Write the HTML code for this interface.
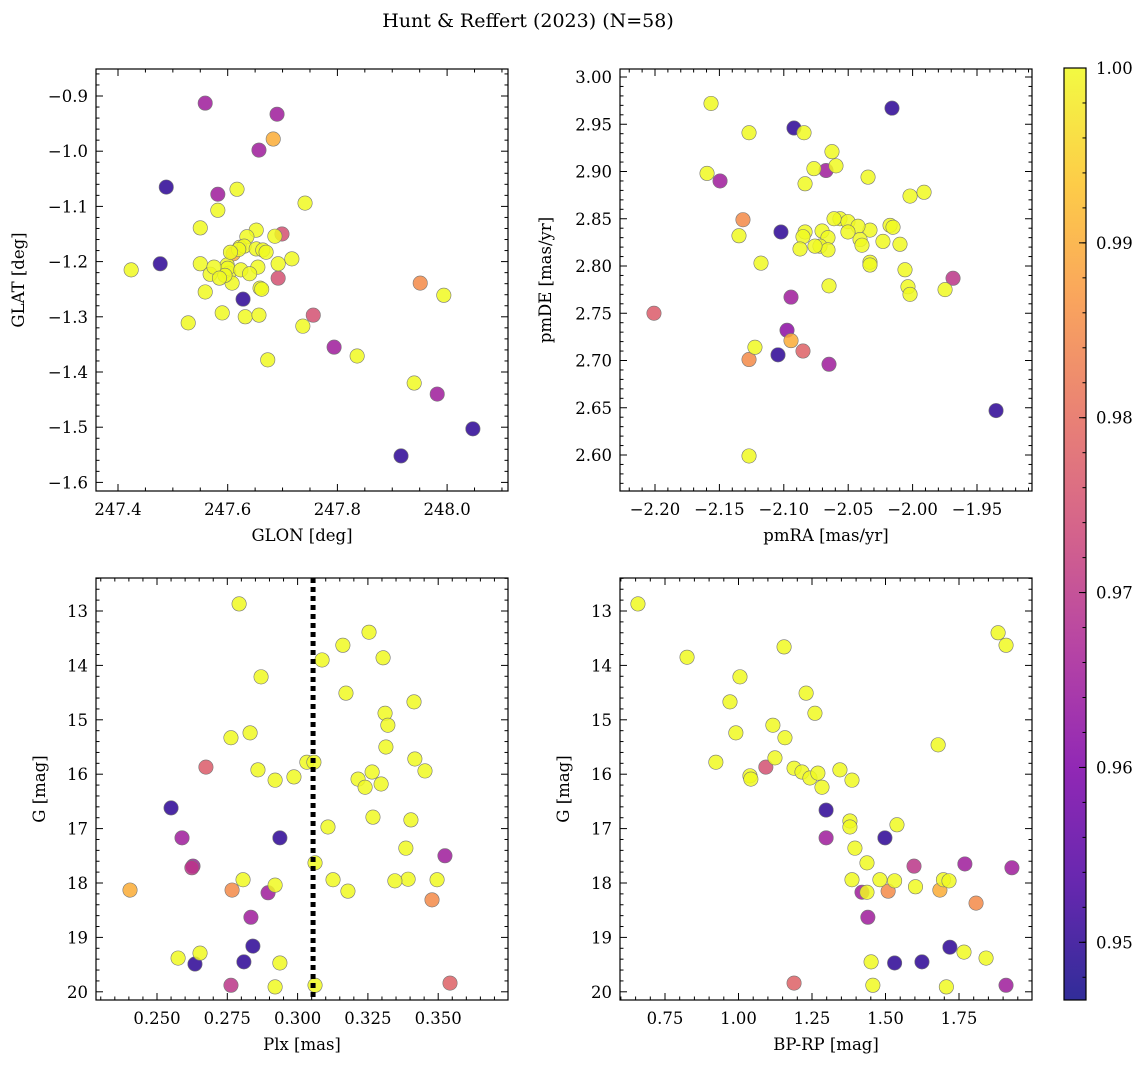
<!DOCTYPE html>
<html><head><meta charset="utf-8">
<style>
html,body{margin:0;padding:0;background:#fff;}
svg text{font-family:"DejaVu Serif","Liberation Serif",serif;fill:#000;}
</style></head>
<body>
<svg id="fig" width="1148" height="1068" viewBox="0 0 1148 1068" xmlns="http://www.w3.org/2000/svg">
<defs>
<linearGradient id="plasma" x1="0" y1="1" x2="0" y2="0">
<stop offset="0" stop-color="#0d0887"/><stop offset="0.125" stop-color="#4c02a1"/>
<stop offset="0.25" stop-color="#7e03a8"/><stop offset="0.375" stop-color="#a92395"/>
<stop offset="0.5" stop-color="#cc4778"/><stop offset="0.625" stop-color="#e56b5d"/>
<stop offset="0.75" stop-color="#f89441"/><stop offset="0.875" stop-color="#fdc328"/>
<stop offset="1" stop-color="#f0f921"/></linearGradient>
</defs>
<text x="528" y="27" font-size="19" text-anchor="middle">Hunt &amp; Reffert (2023) (N=58)</text>
</svg>
<script>
// Panel 1: GLON vs GLAT
const p1Glon=[247.559,247.690,247.683,247.657,247.488,247.582,247.617,247.582,247.741,247.550,247.652,247.699,247.635,247.686,247.622,247.630,247.652,247.664,247.424,247.477,247.550,247.599,247.610,247.602,247.568,247.600,247.717,247.692,247.692,247.655,247.624,247.608,247.559,247.595,247.659,247.628,247.528,247.632,247.590,247.657,247.737,247.756,247.673,247.794,247.836,247.951,247.994,247.940,247.982,248.047,247.916,247.620,247.605,247.575,247.670,247.640,247.662,247.585];
const p1Glat=[-0.913,-0.933,-0.978,-0.998,-1.065,-1.078,-1.069,-1.107,-1.094,-1.139,-1.143,-1.150,-1.155,-1.154,-1.174,-1.172,-1.177,-1.179,-1.215,-1.204,-1.204,-1.206,-1.186,-1.221,-1.223,-1.212,-1.195,-1.204,-1.230,-1.210,-1.215,-1.239,-1.255,-1.225,-1.248,-1.268,-1.311,-1.300,-1.293,-1.297,-1.317,-1.297,-1.378,-1.355,-1.371,-1.239,-1.261,-1.420,-1.440,-1.503,-1.552,-1.178,-1.183,-1.210,-1.183,-1.222,-1.250,-1.230];
const p1Prob=[0.965,0.965,0.99,0.965,0.95,0.965,1,1,1,1,1,0.975,1,1,1,1,1,1,1,0.95,1,1,0.99,1,1,1,1,1,0.975,1,1,1,1,1,1,0.95,1,1,1,1,1,0.975,1,0.965,1,0.985,1,1,0.965,0.95,0.95,1,1,1,1,1,1,1];
// Panel 2: pmRA vs pmDE
const p2PmRA=[-2.1565,-2.1270,-2.0921,-2.0843,-2.0160,-2.1596,-2.1495,-2.0626,-2.0595,-2.0766,-2.0672,-2.0835,-2.0346,-2.0020,-1.9911,-2.0175,-2.0152,-2.0331,-2.0564,-2.0502,-2.0424,-2.0408,-2.0610,-2.0703,-2.0657,-2.0835,-2.1317,-2.1022,-2.1348,-2.0851,-2.0719,-2.0657,-2.0874,-2.0230,-2.0098,-2.0059,-2.0331,-2.0331,-2.0036,-2.0020,-1.9748,-1.9686,-2.1177,-2.0649,-2.0944,-2.2008,-2.0975,-2.1224,-2.0944,-2.1045,-2.0851,-2.1270,-2.0649,-1.9352,-2.1270,-2.0502,-2.0758,-2.0393];
const p2PmDE=[2.972,2.941,2.946,2.941,2.967,2.898,2.890,2.921,2.906,2.903,2.901,2.887,2.894,2.874,2.878,2.843,2.841,2.838,2.850,2.847,2.842,2.828,2.850,2.837,2.830,2.836,2.849,2.836,2.832,2.831,2.821,2.817,2.818,2.826,2.823,2.796,2.804,2.801,2.778,2.770,2.775,2.787,2.803,2.779,2.767,2.750,2.732,2.714,2.721,2.706,2.710,2.701,2.696,2.647,2.599,2.836,2.821,2.822];
const p2Prob=[1,1,0.95,1,0.95,1,0.965,1,1,1,0.965,1,1,1,1,1,1,1,1,1,1,1,1,1,1,1,0.985,0.95,1,1,1,1,1,1,1,1,1,1,1,1,1,0.97,1,1,0.965,0.977,0.962,1,0.99,0.95,0.978,0.985,0.965,0.95,1,1,1,1];
// Panel 3: Plx vs G
const plxMean=0.3055;
const p3Plx=[0.2792,0.3254,0.3161,0.3087,0.3304,0.3172,0.2870,0.3414,0.3311,0.3321,0.2763,0.2831,0.3314,0.3417,0.2674,0.2859,0.2920,0.2987,0.3033,0.3215,0.3265,0.3297,0.3453,0.3403,0.2550,0.2589,0.2937,0.3108,0.3268,0.3385,0.3524,0.2628,0.2624,0.3062,0.2806,0.3126,0.3393,0.3346,0.3496,0.2404,0.2767,0.2920,0.2895,0.3179,0.3478,0.2834,0.2841,0.2809,0.2653,0.2575,0.2635,0.2937,0.2763,0.2920,0.3062,0.3542,0.3240,0.3058];
const p3G=[12.87,13.39,13.63,13.90,13.86,14.51,14.21,14.67,14.88,15.10,15.33,15.24,15.50,15.72,15.87,15.92,16.11,16.05,15.78,16.09,15.96,16.18,15.94,16.84,16.62,17.17,17.17,16.97,16.79,17.36,17.50,17.69,17.72,17.63,17.94,17.94,17.93,17.96,17.94,18.13,18.13,18.04,18.18,18.15,18.31,18.63,19.16,19.45,19.29,19.38,19.49,19.47,19.88,19.91,19.88,19.84,16.24,15.78];
const p3Prob=[1,1,1,1,1,1,1,1,1,1,1,1,1,1,0.977,1,1,1,1,1,1,1,1,1,0.95,0.965,0.95,1,1,1,0.965,0.965,0.97,1,1,1,1,1,1,0.99,0.985,1,0.965,1,0.985,0.965,0.95,0.95,1,1,0.95,1,0.97,1,1,0.978,1,1];
// Panel 4: BP-RP vs G
const p4Color=[0.658,0.825,1.005,1.155,1.230,0.971,1.117,1.260,0.991,1.158,1.124,0.923,1.883,1.910,1.679,1.039,1.042,1.093,1.189,1.216,1.243,1.270,1.345,1.386,1.284,1.298,1.379,1.379,1.298,1.498,1.539,1.396,1.437,1.597,1.770,1.930,1.386,1.481,1.531,1.602,1.697,1.685,1.509,1.437,1.420,1.808,1.440,1.719,1.767,1.842,1.451,1.531,1.624,1.189,1.457,1.707,1.910,1.716];
const p4G=[12.87,13.85,14.21,13.66,14.51,14.67,15.10,14.88,15.24,15.33,15.70,15.78,13.40,13.63,15.46,16.03,16.09,15.87,15.89,15.96,16.07,15.98,15.92,16.11,16.24,16.66,16.86,16.97,17.17,17.17,16.93,17.36,17.63,17.69,17.65,17.72,17.94,17.94,17.96,18.07,17.94,18.13,18.15,18.17,18.17,18.37,18.63,19.18,19.27,19.38,19.45,19.47,19.45,19.84,19.88,19.91,19.88,17.96];
const p4Prob=[1,1,1,1,1,1,1,1,1,1,1,1,1,1,1,1,1,0.975,1,1,1,1,1,1,1,0.95,1,1,0.965,0.95,1,1,1,0.97,0.965,0.965,1,1,1,1,1,0.99,0.985,1,0.965,0.985,0.965,0.95,1,1,1,0.95,0.95,0.978,1,1,0.965,1];
// Colorbar ticks
const cbTicks=[0.95,0.96,0.97,0.98,0.99,1.00];
const cbMin=0.9467, cbMax=1.0;

const NS="http://www.w3.org/2000/svg";
const svg=document.getElementById('fig');
function mk(tag,attrs,parent){const e=document.createElementNS(NS,tag);for(const k in attrs)e.setAttribute(k,attrs[k]);(parent||svg).appendChild(e);return e;}
const stops=[[13,8,135],[76,2,161],[126,3,168],[169,35,149],[204,71,120],[229,107,93],[248,148,65],[253,195,40],[240,249,33]];
function cmap(v){let t=(v-cbMin)/(cbMax-cbMin);t=Math.max(0,Math.min(1,t));const f=t*8,i=Math.min(7,Math.floor(f)),r=f-i;const a=stops[i],b=stops[i+1];return `rgb(${a.map((c,j)=>Math.round(c+(b[j]-c)*r)).join(',')})`;}
function fmt(v,d){const s=v.toFixed(d);return s.replace('-','\u2212');}

function panel(o){
  const g=mk('g',{});
  
  
  const sx=v=>o.x0+(v-o.xv0)*o.xs, sy=v=>o.y0+(v-o.yv0)*o.ys;
  const cp=mk('clipPath',{id:o.name+'-clip'},g);
  mk('rect',{x:o.L,y:o.T,width:o.R-o.L,height:o.B-o.T},cp);
  const pts=mk('g',{'clip-path':`url(#${o.name}-clip)`},g);
  const order=o.xs_.map((_,i)=>i).sort((a,b)=>o.c[a]-o.c[b]);
  order.forEach(i=>{
    const c=mk('circle',{cx:sx(o.xs_[i]),cy:sy(o.ys_[i]),r:7.2,fill:cmap(o.c[i]),'fill-opacity':0.85,stroke:'#777','stroke-width':0.6},pts);
    
    
  });
  if(o.vline!==undefined){
    const l=mk('line',{x1:sx(o.vline),x2:sx(o.vline),y1:o.T,y2:o.B,stroke:'#000','stroke-width':5,'stroke-dasharray':'5 4'},g);
    
    
  }
  mk('rect',{x:o.L,y:o.T,width:o.R-o.L,height:o.B-o.T,fill:'none',stroke:'#000','stroke-width':1.2},g);
  for(let k=Math.ceil((o.xlo)/o.xmin-1e-6);k*o.xmin<=o.xhi+1e-9;k++){
    const v=k*o.xmin,px=sx(v);if(px<o.L||px>o.R)continue;
    const major=Math.abs(v/o.xmaj-Math.round(v/o.xmaj))<1e-4;const len=major?7:3.5;
    mk('line',{x1:px,x2:px,y1:o.B,y2:o.B-len,stroke:'#000','stroke-width':1},g);
    mk('line',{x1:px,x2:px,y1:o.T,y2:o.T+len,stroke:'#000','stroke-width':1},g);
    if(major){const t=mk('text',{x:px,y:o.B+24,'font-size':16.5,'text-anchor':'middle'},g);t.textContent=fmt(v,o.xd);
      }
  }
  for(let k=Math.ceil((o.ylo)/o.ymin-1e-6);k*o.ymin<=o.yhi+1e-9;k++){
    const v=k*o.ymin,py=sy(v);if(py<o.T||py>o.B)continue;
    const major=Math.abs(v/o.ymaj-Math.round(v/o.ymaj))<1e-4;const len=major?7:3.5;
    mk('line',{x1:o.L,x2:o.L+len,y1:py,y2:py,stroke:'#000','stroke-width':1},g);
    mk('line',{x1:o.R,x2:o.R-len,y1:py,y2:py,stroke:'#000','stroke-width':1},g);
    if(major){const t=mk('text',{x:o.L-8,y:py+6,'font-size':16.5,'text-anchor':'end'},g);t.textContent=fmt(v,o.yd);
      }
  }
  const xl=mk('text',{x:(o.L+o.R)/2,y:o.B+50,'font-size':16.5,'text-anchor':'middle'},g);xl.textContent=o.xlabel;
  
  const yx=o.ylx, yy=(o.T+o.B)/2;
  const yl=mk('text',{x:yx,y:yy,'font-size':16.5,'text-anchor':'middle',transform:`rotate(-90 ${yx} ${yy})`},g);yl.textContent=o.ylabel;
  
}
panel({name:'glon-glat-panel',L:96,R:508,T:69,B:491,x0:118,xv0:247.4,xs:548.5,y0:96,yv0:-0.9,ys:-552,
  xlo:247.3,xhi:248.2,xmaj:0.2,xmin:0.05,xd:1,ylo:-1.7,yhi:-0.8,ymaj:0.1,ymin:0.02,yd:1,
  xs_:p1Glon,ys_:p1Glat,c:p1Prob,xlabel:'GLON [deg]',ylabel:'GLAT [deg]',ylx:24});
panel({name:'pm-panel',L:620,R:1032,T:69,B:491,x0:655,xv0:-2.2,xs:1288,y0:77,yv0:3.0,ys:-945,
  xlo:-2.25,xhi:-1.85,xmaj:0.05,xmin:0.01,xd:2,ylo:2.5,yhi:3.05,ymaj:0.05,ymin:0.01,yd:2,
  xs_:p2PmRA,ys_:p2PmDE,c:p2Prob,xlabel:'pmRA [mas/yr]',ylabel:'pmDE [mas/yr]',ylx:551});
panel({name:'plx-g-panel',L:96,R:508,T:578,B:1000,x0:157,xv0:0.25,xs:2812,y0:611,yv0:13,ys:54.4,
  xlo:0.22,xhi:0.38,xmaj:0.025,xmin:0.005,xd:3,ylo:12,yhi:21,ymaj:1,ymin:0.2,yd:0,
  xs_:p3Plx,ys_:p3G,c:p3Prob,vline:plxMean,xlabel:'Plx [mas]',ylabel:'G [mag]',ylx:45});
panel({name:'cmd-panel',L:620,R:1032,T:578,B:1000,x0:665,xv0:0.75,xs:294,y0:611,yv0:13,ys:54.4,
  xlo:0.5,xhi:2.1,xmaj:0.25,xmin:0.05,xd:2,ylo:12,yhi:21,ymaj:1,ymin:0.2,yd:0,
  xs_:p4Color,ys_:p4G,c:p4Prob,xlabel:'BP-RP [mag]',ylabel:'G [mag]',ylx:569});
const cb=mk('g',{});


const cT=68,cB=1000,cL=1064,cR=1086;
mk('rect',{x:cL,y:cT,width:cR-cL,height:cB-cT,fill:'url(#plasma)','fill-opacity':0.85},cb);
mk('rect',{x:cL,y:cT,width:cR-cL,height:cB-cT,fill:'none',stroke:'#000','stroke-width':1.2},cb);
const cy=v=>cB-(v-cbMin)/(cbMax-cbMin)*(cB-cT);
for(let k=474;k<=500;k++){const v=k*0.002;if(v<cbMin-1e-9)continue;const py=cy(v);
  mk('line',{x1:cR,x2:cR-3.5,y1:py,y2:py,stroke:'#000','stroke-width':1},cb);}
cbTicks.forEach(v=>{const py=cy(v);
  mk('line',{x1:cR,x2:cR-7,y1:py,y2:py,stroke:'#000','stroke-width':1},cb);
  const t=mk('text',{x:cR+10,y:py+6,'font-size':16.5},cb);t.textContent=v.toFixed(2);
  });
</script>
</body></html>
